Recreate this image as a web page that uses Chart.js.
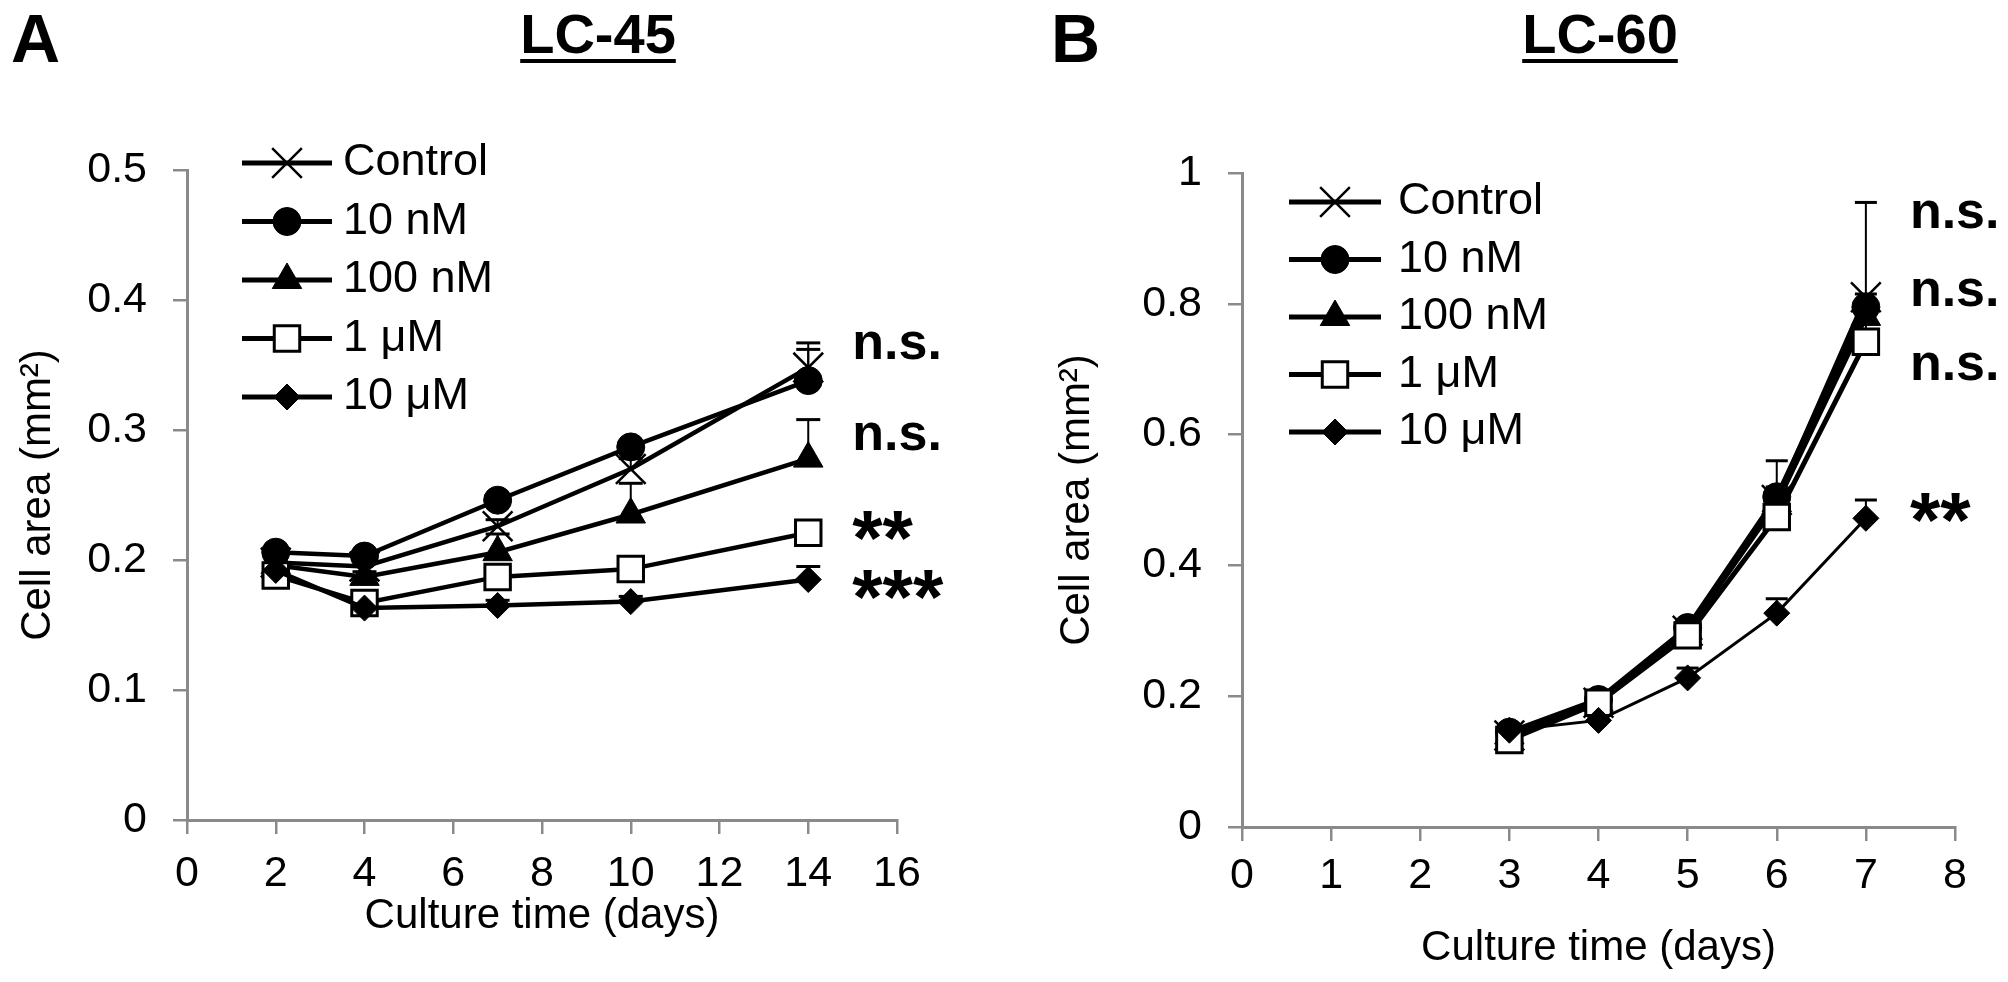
<!DOCTYPE html>
<html>
<head>
<meta charset="utf-8">
<script src="https://cdn.jsdelivr.net/npm/chart.js@4.4.1/dist/chart.umd.min.js"></script>
<style>
  html, body { margin: 0; padding: 0; background: #fff; }
  body { width: 2008px; height: 982px; position: relative; overflow: hidden;
         font-family: "Liberation Sans", Arial, sans-serif; color: #000; }
  canvas { position: absolute; top: 0; }
  #chartA { left: 0; }
  #chartB { left: 1000px; }
  .letter { position: absolute; top: 4px; font-size: 68px; line-height: 1; font-weight: bold; }
  .title { position: absolute; top: 6px; width: 600px; text-align: center; font-size: 56px;
           line-height: 1; font-weight: bold; text-decoration: underline;
           text-decoration-thickness: 4px; text-underline-offset: 6px; }
</style>
</head>
<body>
<div class="letter" style="left:11px">A</div>
<div class="title" style="left:298px">LC-45</div>
<div class="letter" style="left:1051px">B</div>
<div class="title" style="left:1300px">LC-60</div>
<canvas id="chartA" width="1000" height="982"></canvas>
<canvas id="chartB" width="1008" height="982"></canvas>
<script>
'use strict';

// Series names (legend order)
const seriesNames = ['Control', '10 nM', '100 nM', '1 μM', '10 μM'];

// Panel A - LC-45
const daysA = [2, 4, 7, 10, 14];
const controlA = [0.198, 0.195, 0.226, 0.270, 0.348];
const nM10A = [0.206, 0.203, 0.246, 0.287, 0.338];
const nM100A = [0.196, 0.187, 0.206, 0.235, 0.278];
const uM1A = [0.188, 0.167, 0.187, 0.193, 0.221];
const uM10A = [0.192, 0.163, 0.165, 0.168, 0.185];
const errControlA = [0.004, 0.004, 0.005, 0.008, 0.019];
const errNM10A = [0.003, 0.003, 0.004, 0.004, 0.024];
const errNM100A = [0.004, 0.004, 0.014, 0.024, 0.030];
const errUM1A = [0.004, 0.004, 0.006, 0.008, 0.008];
const errUM10A = [0.003, 0.003, 0.004, 0.004, 0.010];
const sigTextA = ['n.s.', 'n.s.', '**', '***'];
const sigValueA = [0.365, 0.295, 0.226, 0.181];

// Panel B - LC-60
const daysB = [3, 4, 5, 6, 7];
const controlB = [0.140, 0.190, 0.300, 0.500, 0.810];
const nM10B = [0.145, 0.195, 0.305, 0.505, 0.795];
const nM100B = [0.140, 0.190, 0.300, 0.495, 0.780];
const uM1B = [0.133, 0.190, 0.293, 0.474, 0.742];
const uM10B = [0.148, 0.163, 0.228, 0.327, 0.472];
const errControlB = [0.005, 0.010, 0.012, 0.060, 0.145];
const errNM10B = [0.005, 0.008, 0.010, 0.015, 0.020];
const errNM100B = [0.005, 0.008, 0.010, 0.015, 0.020];
const errUM1B = [0.005, 0.008, 0.010, 0.020, 0.030];
const errUM10B = [0.005, 0.005, 0.015, 0.022, 0.028];
const sigTextB = ['n.s.', 'n.s.', 'n.s.', '**'];
const sigValueB = [0.936, 0.817, 0.704, 0.488];

// Marker looks, one per series
const markers = [
  { shape: 'crossRot', radius: 21, fill: '#000', border: 2.5 },
  { shape: 'circle', radius: 14, fill: '#000', border: 1 },
  { shape: 'triangle', radius: 17, fill: '#000', border: 1 },
  { shape: 'rect', radius: 18, fill: '#fff', border: 3 },
  { shape: 'rectRot', radius: 13, fill: '#000', border: 1 }
];

const FONT = '"Liberation Sans", Arial, sans-serif';
const axisGray = '#8a8a8a';

Chart.defaults.font.family = FONT;
Chart.defaults.color = '#000';

// Upward error bars (mean + SD)
const errorBars = {
  id: 'errorBars',
  beforeDatasetsDraw(chart, args, opts) {
    const { ctx } = chart;
    const x = chart.scales.x, y = chart.scales.y;
    ctx.save();
    ctx.strokeStyle = '#000';
    chart.data.datasets.forEach((ds, i) => {
      const errs = opts.errors[i];
      ds.data.forEach((p, j) => {
        const px = x.getPixelForValue(p.x);
        const py = y.getPixelForValue(p.y);
        const pt = y.getPixelForValue(p.y + errs[j]);
        ctx.lineWidth = opts.lineWidth;
        ctx.beginPath();
        ctx.moveTo(px, py);
        ctx.lineTo(px, pt);
        ctx.stroke();
        ctx.lineWidth = opts.capWidth;
        ctx.beginPath();
        ctx.moveTo(px - opts.cap, pt);
        ctx.lineTo(px + opts.cap, pt);
        ctx.stroke();
      });
    });
    ctx.restore();
  }
};

// Legend with a line through the marker, like the original
const lineLegend = {
  id: 'lineLegend',
  afterDraw(chart, args, opts) {
    const { ctx } = chart;
    ctx.save();
    chart.data.datasets.forEach((ds, i) => {
      const yy = opts.top + i * opts.rowGap;
      ctx.strokeStyle = '#000';
      ctx.lineWidth = opts.lineWidth;
      ctx.beginPath();
      ctx.moveTo(opts.left, yy);
      ctx.lineTo(opts.left + opts.lineLength, yy);
      ctx.stroke();
      ctx.fillStyle = ds.pointBackgroundColor;
      ctx.lineWidth = ds.pointBorderWidth;
      Chart.helpers.drawPoint(ctx, {
        pointStyle: ds.pointStyle,
        radius: ds.pointRadius,
        borderWidth: ds.pointBorderWidth,
        rotation: 0
      }, opts.left + opts.lineLength / 2, yy);
      ctx.fillStyle = '#000';
      ctx.font = opts.fontSize + 'px ' + FONT;
      ctx.textBaseline = 'middle';
      ctx.textAlign = 'left';
      ctx.fillText(ds.label, opts.left + opts.lineLength + opts.textGap, yy);
    });
    ctx.restore();
  }
};

// Significance marks to the right of the last time point
const sigMarks = {
  id: 'sigMarks',
  afterDraw(chart, args, opts) {
    const { ctx } = chart;
    const x = chart.scales.x, y = chart.scales.y;
    ctx.save();
    ctx.fillStyle = '#000';
    ctx.textAlign = 'left';
    ctx.textBaseline = 'alphabetic';
    const px = x.getPixelForValue(opts.atX) + opts.offset;
    opts.texts.forEach((t, i) => {
      // asterisks are set larger than the n.s. text in the original
      const size = t.indexOf('*') >= 0 ? opts.starSize : opts.fontSize;
      ctx.font = 'bold ' + size + 'px ' + FONT;
      const m = ctx.measureText(t);
      const cy = y.getPixelForValue(opts.values[i]);
      const base = cy + (m.actualBoundingBoxAscent - m.actualBoundingBoxDescent) / 2;
      ctx.fillText(t, px, base);
    });
    ctx.restore();
  }
};

function makeDataset(i, days, values, lineWidth) {
  const mk = markers[i];
  return {
    label: seriesNames[i],
    data: days.map((d, j) => ({ x: d, y: values[j] })),
    borderColor: '#000',
    borderWidth: lineWidth,
    pointStyle: mk.shape,
    pointRadius: mk.radius,
    pointHoverRadius: mk.radius,
    pointBackgroundColor: mk.fill,
    pointBorderColor: '#000',
    pointBorderWidth: mk.border,
    tension: 0,
    fill: false,
    clip: false,
    order: 5 - i
  };
}

function axis(min, max, step, title, titlePad, tickPad, fitSize, horizontal) {
  return {
    type: 'linear',
    min: min,
    max: max,
    ticks: {
      stepSize: step,
      autoSkip: false,
      maxRotation: 0,
      padding: tickPad,
      color: '#000',
      font: { size: 43 },
      callback: v => String(+v.toFixed(2))
    },
    grid: {
      drawOnChartArea: false,
      drawTicks: true,
      tickLength: 14,
      color: axisGray,
      lineWidth: 2.5
    },
    border: { display: true, color: axisGray, width: 3 },
    title: {
      display: true,
      text: title,
      color: '#000',
      font: { size: 42, lineHeight: 1.2 },
      padding: titlePad
    },
    afterFit(scale) {
      if (horizontal) scale.height = fitSize; else scale.width = fitSize;
    }
  };
}

function buildChart(canvasId, cfg) {
  const ctx = document.getElementById(canvasId);
  if (!ctx) {
    console.warn('Canvas not found: ' + canvasId);
    return null;
  }
  return new Chart(ctx, {
    type: 'line',
    data: { datasets: cfg.datasets },
    options: {
      responsive: false,
      animation: false,
      devicePixelRatio: 1,
      layout: { padding: cfg.padding },
      plugins: {
        legend: { display: false },
        tooltip: { enabled: false },
        errorBars: cfg.errorBars,
        lineLegend: cfg.legend,
        sigMarks: cfg.sig
      },
      scales: {
        x: cfg.x,
        y: cfg.y
      }
    },
    plugins: [errorBars, lineLegend, sigMarks]
  });
}

// Panel A
const seriesA = [controlA, nM10A, nM100A, uM1A, uM10A];
buildChart('chartA', {
  datasets: seriesA.map((vals, i) => makeDataset(i, daysA, vals, 4.5)),
  padding: { top: 170, right: 103, left: 0, bottom: 0 },
  x: axis(0, 16, 2, 'Culture time (days)', 40, 14, 162, true),
  y: axis(0, 0.5, 0.1, 'Cell area (mm²)', 13, 26, 187, false),
  errorBars: {
    errors: [errControlA, errNM10A, errNM100A, errUM1A, errUM10A],
    lineWidth: 2, capWidth: 3, cap: 12
  },
  legend: { left: 242, top: 163, rowGap: 58.5, lineLength: 90, lineWidth: 5, textGap: 11, fontSize: 45 },
  sig: { texts: sigTextA, values: sigValueA, atX: daysA[daysA.length - 1], offset: 44, fontSize: 52, starSize: 78 }
});

// Panel B
const seriesB = [controlB, nM10B, nM100B, uM1B, uM10B];
buildChart('chartB', {
  datasets: seriesB.map((vals, i) => makeDataset(i, daysB, vals, i === 4 ? 3 : 5)),
  padding: { top: 173, right: 53, left: 0, bottom: 0 },
  x: axis(0, 8, 1, 'Culture time (days)', 8, 9, 155, true),
  y: axis(0, 1, 0.2, 'Cell area (mm²)', 52, 26, 242, false),
  errorBars: {
    errors: [errControlB, errNM10B, errNM100B, errUM1B, errUM10B],
    lineWidth: 2, capWidth: 3, cap: 11
  },
  legend: { left: 289, top: 202, rowGap: 57.5, lineLength: 92, lineWidth: 5, textGap: 17, fontSize: 45 },
  sig: { texts: sigTextB, values: sigValueB, atX: daysB[daysB.length - 1], offset: 44, fontSize: 52, starSize: 78 }
});
</script>
</body>
</html>
